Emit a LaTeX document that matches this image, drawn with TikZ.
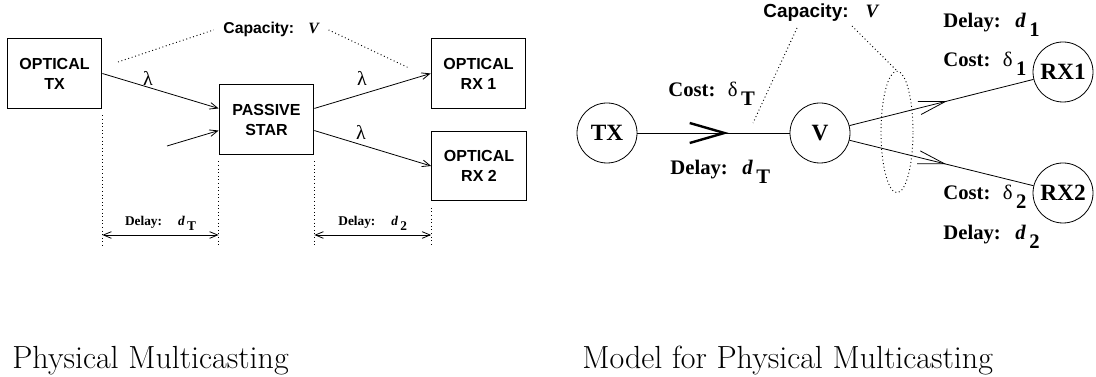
\documentclass[tikz,border=0pt]{standalone}
\usepackage{fontspec}
\newfontfamily\tms{Liberation Serif}
\newfontfamily\hlv{Liberation Sans}
\usetikzlibrary{arrows.meta,decorations.markings,shapes.geometric}
\newcommand{\lowsub}[1]{\,\raisebox{-0.4em}{#1}}

\begin{document}
\begin{tikzpicture}[x=0.75pt,y=-0.75pt,line width=0.6pt,
          box/.style={draw,line width=0.8pt,minimum width=71pt,minimum height=52pt,align=center,
            font=\hlv\bfseries\fontsize{12}{15}\selectfont},
          station/.style={draw,circle,minimum size=45pt,inner sep=0pt,
            font=\tms\bfseries\fontsize{17.5}{20}\selectfont},
          guide/.style={dotted,line width=0.7pt},
          link/.style={-{Straight Barb[length=6pt,width=5pt]}},
          span/.style={{Straight Barb[length=6pt,width=5pt]}-{Straight Barb[length=6pt,width=5pt]}},
          lam/.style={font=\tms\fontsize{15}{18}\selectfont},
          delay/.style={font=\tms\bfseries\fontsize{10}{12}\selectfont,inner sep=0pt},
          tag/.style={anchor=base west,inner sep=0pt,font=\tms\bfseries\fontsize{15.5}{18}\selectfont},
          capa/.style={anchor=base west,font=\hlv\bfseries\fontsize{#1}{#1}\selectfont},
          title/.style={anchor=base west,inner sep=0pt,
            font=\fontsize{24}{29}\selectfont\addfontfeatures{LetterSpace=10}},
          bigmid/.style={postaction={decorate},decoration={markings,mark=at position #1 with
            {\arrow[line width=1.8pt]{Straight Barb[length=26pt,width=15pt]}}}},
          mid/.style={postaction={decorate},decoration={markings,mark=at position #1 with
            {\arrow{Straight Barb[length=20pt,width=10pt]}}}}]
\useasboundingbox (0,0) rectangle (1096,377);

% physical multicasting
\node[box] (otx) at (54.5,73.5) {OPTICAL\\TX};
\node[box] (star) at (266.5,119.5) {PASSIVE\\STAR};
\node[box] (orx1) at (478.5,73.5) {OPTICAL\\RX 1};
\node[box] (orx2) at (479,166) {OPTICAL\\RX 2};
\coordinate (feed) at (167,146);
\draw[link] (otx.east) -- (star.167);
\draw[link] (feed) -- (star.193);
\draw[link] (star.13) -- (orx1.west);
\draw[link] (star.347) -- (orx2.west);
\node[lam] (lam1) at (148,78) {λ};
\node[lam] (lam2) at (362,78) {λ};
\node[lam] (lam3) at (361,132) {λ};

\node[capa=11.8,inner sep=0pt] (capl) at (223,34) {Capacity:\hspace{0.9em}{\tms\itshape V}};
\coordinate (capl1) at (118,62);
\coordinate (capl2) at (409,68);
\draw[guide] (capl1) -- ([xshift=-7pt]capl.west);
\draw[guide] ([xshift=7pt]capl.east) -- (capl2);

\coordinate (floor) at (0,245);
\coordinate (ruler) at (0,235);
\draw[guide] ([yshift=-5pt]otx.south east) -- (otx.south east |- floor);
\draw[guide] ([yshift=-5pt]star.south west) -- (star.south west |- floor);
\draw[guide] ([yshift=-5pt]star.south east) -- (star.south east |- floor);
\draw[guide] ([yshift=-5pt]orx2.south west) -- (orx2.south west |- floor);
\draw[span] (otx.south east |- ruler) -- node[delay,above=3pt] (dl1) {Delay:\hspace{1.2em}\textit{d}\lowsub{T}} (star.south west |- ruler);
\draw[span] (star.south east |- ruler) -- node[delay,above=3pt] (dl2) {Delay:\hspace{1.2em}\textit{d}\lowsub{2}} (orx2.south west |- ruler);

% model
\node[station] (tx) at (607,133) {TX};
\node[station] (v) at (820,133) {V};
\node[station] (rx1) at (1063,72) {RX1};
\node[station] (rx2) at (1063,193) {RX2};
\draw[bigmid=0.6] (tx) -- (v);
\draw[mid=0.53] (v) -- (rx1);
\draw[mid=0.525] (v) -- (rx2);

\node[tag] (costT) at (668,97) {Cost:\hspace{0.6em}{\mdseries δ}\lowsub{T}};
\node[tag] (delT) at (670,175) {Delay:\hspace{0.7em}\textit{d}\lowsub{T}};
\node[tag] (del1) at (943,28) {Delay:\hspace{0.7em}\textit{d}\lowsub{1}};
\node[tag] (cost1) at (943,67) {Cost:\hspace{0.6em}{\mdseries δ}\lowsub{1}};
\node[tag] (cost2) at (943,200) {Cost:\hspace{0.6em}{\mdseries δ}\lowsub{2}};
\node[tag] (del2) at (943,240) {Delay:\hspace{0.7em}\textit{d}\lowsub{2}};

\node[capa=14.2,inner sep=0pt] (capr) at (763,18) {Capacity:\hspace{0.9em}{\tms\itshape V}};
\node[draw,guide,ellipse,minimum width=24pt,minimum height=91pt,inner sep=0pt] (bundle) at (897,132) {};
\coordinate (cq1) at (797,28);
\coordinate (cq2) at (852,26);
\coordinate (tvmark) at (753,123);
\draw[guide] (cq1) -- (tvmark);
\draw[guide] (cq2) -- (bundle.north);

\node[title] (cap1) at (12,369) {Physical Multicasting};
\node[title] (cap2) at (582,369) {Model for Physical Multicasting};
\end{tikzpicture}
\end{document}
